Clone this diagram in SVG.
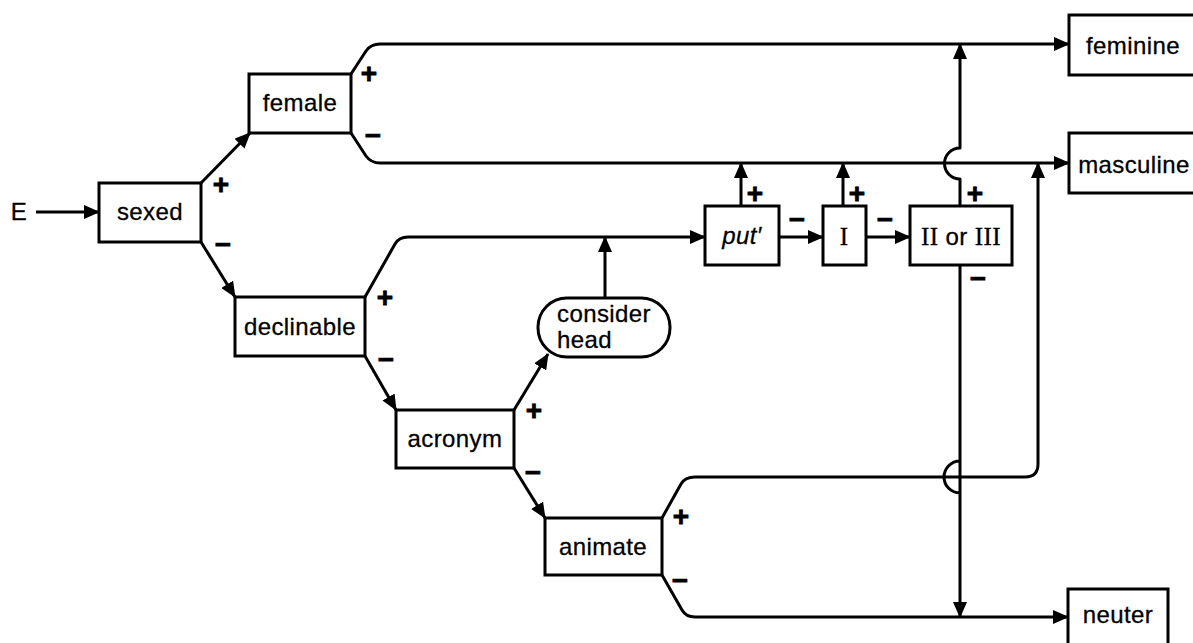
<svg xmlns="http://www.w3.org/2000/svg" width="1193" height="643" viewBox="0 0 1193 643">
<style>
.box{fill:#fff;stroke:#000;stroke-width:3}
.t{font-family:"Liberation Sans",Arial,sans-serif;font-size:24px;letter-spacing:0.4px;fill:#000;stroke:#000;stroke-width:0.3;text-anchor:middle}
.sg{font-family:"Liberation Sans",Arial,sans-serif;font-weight:bold;font-size:28px;fill:#000;stroke:#000;stroke-width:0.8;text-anchor:middle;dominant-baseline:central}
.ln{fill:none;stroke:#000;stroke-width:3;stroke-linejoin:round}
.ar{marker-end:url(#ah)}
.serif{font-family:"Liberation Serif","Times New Roman",serif;font-size:25px}
</style>
<defs>
<marker id="ah" markerUnits="userSpaceOnUse" markerWidth="16" markerHeight="14" refX="15" refY="7" orient="auto">
<path d="M0,0 L16,7 L0,14 z" fill="#000"/>
</marker>
</defs>
<g id="connectors">
<path class="ln ar" d="M36,212 L99,212"/>
<path class="ln ar" d="M201,183 L250,133"/>
<path class="ln ar" d="M201,242 L235,297"/>
<path class="ln ar" d="M351,74 L366,51 Q371,44 380,44 L1069,44"/>
<path class="ln ar" d="M351,133 L366,156 Q371,163 380,163 L1069,163"/>
<path class="ln ar" d="M365,297 L395,244 Q399,237 408,237 L705,237"/>
<path class="ln ar" d="M365,356 L396,410"/>
<path class="ln ar" d="M514,410 L548,354"/>
<path class="ln ar" d="M514,468 L545,518"/>
<path class="ln ar" d="M605,298 L605,237"/>
<path class="ln ar" d="M779,237 L823,237"/>
<path class="ln ar" d="M866,237 L910,237"/>
<path class="ln ar" d="M741,206 L741,163"/>
<path class="ln ar" d="M843,206 L843,163"/>
<path class="ln ar" d="M960,206 L960,179 A15,15 0 0 1 960,148 L960,44"/>
<path class="ln ar" d="M960,266 L960,493 A16,16 0 0 1 960,461 L960,617"/>
<path class="ln ar" d="M662,518 L681,484 Q685,477 695,477 L1025,477 Q1038,477 1038,464 L1038,163"/>
<path class="ln ar" d="M662,575 L682,610 Q686,617 695,617 L1068,617"/>
</g>
<g id="E"><text class="t" x="19" y="220">E</text></g>
<g id="sexed"><rect class="box" x="99" y="183" width="102" height="59"/><text class="t" x="150" y="220">sexed</text></g>
<g id="female"><rect class="box" x="249" y="74" width="102" height="59"/><text class="t" x="300" y="111">female</text></g>
<g id="declinable"><rect class="box" x="235" y="297" width="130" height="59"/><text class="t" x="300" y="335">declinable</text></g>
<g id="acronym"><rect class="box" x="396" y="410" width="118" height="58"/><text class="t" x="455" y="447">acronym</text></g>
<g id="animate"><rect class="box" x="545" y="518" width="117" height="57"/><text class="t" x="603" y="555">animate</text></g>
<g id="consider_head"><rect class="box" x="538" y="298" width="132" height="59" rx="29" ry="29"/><text class="t" x="557" y="322" style="text-anchor:start">consider</text><text class="t" x="557" y="348" style="text-anchor:start">head</text></g>
<g id="put"><rect class="box" x="705" y="206" width="74" height="59"/><text class="t" x="742" y="244" font-style="italic">put′</text></g>
<g id="I"><rect class="box" x="823" y="206" width="43" height="59"/><text class="t serif" x="844" y="245">I</text></g>
<g id="II_or_III"><rect class="box" x="910" y="206" width="102" height="59"/><text class="t" x="961" y="245"><tspan class="serif">II</tspan> or <tspan class="serif">III</tspan></text></g>
<g id="feminine"><rect class="box" x="1069" y="15" width="126" height="60"/><text class="t" x="1133" y="54">feminine</text></g>
<g id="masculine"><rect class="box" x="1069" y="133" width="126" height="60"/><text class="t" x="1134" y="173">masculine</text></g>
<g id="neuter"><rect class="box" x="1068" y="589" width="100" height="64"/><text class="t" x="1118" y="623">neuter</text></g>
<g id="signs">
<text class="sg" x="221" y="184">+</text><text class="sg" x="223" y="244">−</text>
<text class="sg" x="369" y="73">+</text><text class="sg" x="373" y="135">−</text>
<text class="sg" x="385" y="297">+</text><text class="sg" x="386" y="359">−</text>
<text class="sg" x="534" y="410">+</text><text class="sg" x="533" y="472">−</text>
<text class="sg" x="681" y="516">+</text><text class="sg" x="680" y="580">−</text>
<text class="sg" x="755" y="193">+</text><text class="sg" x="797" y="219">−</text>
<text class="sg" x="857" y="193">+</text><text class="sg" x="885" y="219">−</text>
<text class="sg" x="975" y="193">+</text><text class="sg" x="978" y="278">−</text>
</g>
</svg>
